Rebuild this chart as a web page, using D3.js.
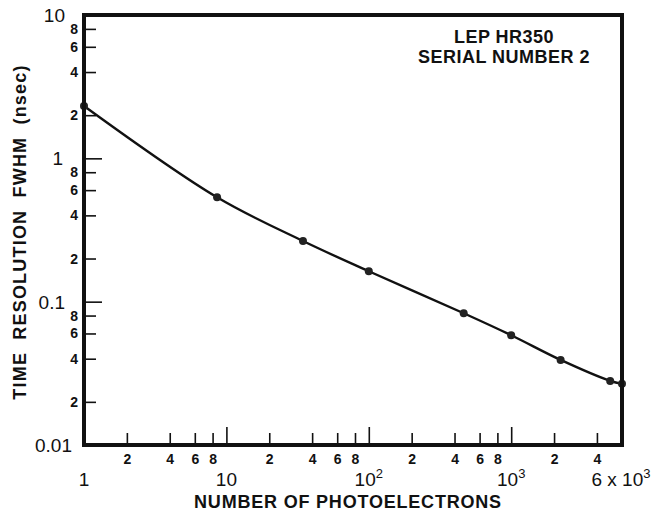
<!DOCTYPE html>
<html>
<head>
<meta charset="utf-8">
<script src="https://cdn.jsdelivr.net/npm/d3@7"></script>
<style>
  html, body { margin: 0; padding: 0; background: #fff; }
  svg { display: block; }
  text { font-family: "Liberation Sans", Arial, sans-serif; fill: #111; }
</style>
</head>
<body>
<svg id="chart" width="657" height="512"></svg>
<script>
// ---- data ----
const photoelectrons = [1, 8.6, 34.5, 100, 464, 1000, 2224, 4955, 6000];
const fwhm = [2.32, 0.535, 0.265, 0.163, 0.083, 0.0583, 0.0392, 0.028, 0.0267];

const xMinorTicks = [2, 4, 6, 8, 20, 40, 60, 80, 200, 400, 600, 800, 2000, 4000];
const xMajorTicks = [10, 100, 1000];
const xMajorLabels = [
  { v: 1, base: "1", sup: "" },
  { v: 10, base: "10", sup: "" },
  { v: 100, base: "10", sup: "2" },
  { v: 1000, base: "10", sup: "3" },
  { v: 6000, base: "6 x 10", sup: "3" }
];
const yMinorTicks = [0.02, 0.04, 0.06, 0.08, 0.2, 0.4, 0.6, 0.8, 2, 4, 6, 8];
const yMajorTicks = [0.1, 1];
const yMajorLabels = [
  { v: 10, t: "10" },
  { v: 1, t: "1" },
  { v: 0.1, t: "0.1" },
  { v: 0.01, t: "0.01" }
];
const titleLines = ["LEP HR350", "SERIAL NUMBER 2"];
const xTitle = "NUMBER OF PHOTOELECTRONS";
const yTitle = "TIME RESOLUTION FWHM (nsec)";

// ---- layout ----
const L = 84, R = 622, T = 15, B = 445;
const svg = d3.select("#chart");

const x = d3.scaleLog().domain([1, 6000]).range([L, R]);
const y = d3.scaleLog().domain([0.01, 10]).range([B, T]);

// minor x ticks with labels
const xAxisMinor = d3.axisBottom(x)
  .tickValues(xMinorTicks)
  .tickSize(-12)
  .tickPadding(9)
  .tickFormat(d => String(d).charAt(0));
svg.append("g").attr("transform", `translate(0,${B})`).call(xAxisMinor)
  .call(g => g.select(".domain").remove())
  .call(g => g.selectAll(".tick line").attr("stroke", "#111").attr("stroke-width", 1.6))
  .call(g => g.selectAll(".tick text").attr("font-size", 14).attr("font-weight", "bold").attr("font-family", "Liberation Sans, Arial, sans-serif").attr("fill", "#111"));

// major x ticks
const xAxisMajor = d3.axisBottom(x).tickValues(xMajorTicks).tickSize(-18).tickFormat("");
svg.append("g").attr("transform", `translate(0,${B})`).call(xAxisMajor)
  .call(g => g.select(".domain").remove())
  .call(g => g.selectAll(".tick line").attr("stroke", "#111").attr("stroke-width", 1.6));

// minor y ticks with labels
const yAxisMinor = d3.axisLeft(y)
  .tickValues(yMinorTicks)
  .tickSize(-12)
  .tickPadding(6)
  .tickFormat(d => String(d).replace("0.0", "").replace("0.", "").charAt(0));
svg.append("g").attr("transform", `translate(${L},0)`).call(yAxisMinor)
  .call(g => g.select(".domain").remove())
  .call(g => g.selectAll(".tick line").attr("stroke", "#111").attr("stroke-width", 1.6))
  .call(g => g.selectAll(".tick text").attr("font-size", 14).attr("font-weight", "bold").attr("font-family", "Liberation Sans, Arial, sans-serif").attr("fill", "#111"));

// major y ticks
const yAxisMajor = d3.axisLeft(y).tickValues(yMajorTicks).tickSize(-18).tickFormat("");
svg.append("g").attr("transform", `translate(${L},0)`).call(yAxisMajor)
  .call(g => g.select(".domain").remove())
  .call(g => g.selectAll(".tick line").attr("stroke", "#111").attr("stroke-width", 1.6));

// major y labels
svg.append("g").selectAll("text").data(yMajorLabels).join("text")
  .attr("x", d => d.v === 0.01 ? 72 : (d.v === 1 ? 63 : 65))
  .attr("y", d => y(d.v))
  .attr("dy", "0.36em")
  .attr("text-anchor", "end")
  .attr("font-size", 19)
  .text(d => d.t);

// major x labels
const xl = svg.append("g").selectAll("text").data(xMajorLabels).join("text")
  .attr("x", d => d.v === 6000 ? x(d.v) - 1 : x(d.v))
  .attr("y", 486)
  .attr("text-anchor", "middle")
  .attr("font-size", 19);
xl.append("tspan").text(d => d.base);
xl.filter(d => d.sup).append("tspan")
  .attr("dy", -8).attr("font-size", 13).text(d => d.sup);

// curve
const pts = photoelectrons.map((v, i) => [x(v), y(fwhm[i])]);
const line = d3.line().curve(d3.curveCatmullRom.alpha(0.5));
svg.append("path").attr("d", line(pts))
  .attr("fill", "none").attr("stroke", "#111").attr("stroke-width", 2.4);

// points
svg.append("g").selectAll("circle").data(photoelectrons).join("circle")
  .attr("cx", d => x(d))
  .attr("cy", (d, i) => y(fwhm[i]))
  .attr("r", 4)
  .attr("fill", "#222");

// frame
svg.append("rect").attr("x", L).attr("y", T).attr("width", R - L).attr("height", B - T)
  .attr("fill", "none").attr("stroke", "#111").attr("stroke-width", 4);

// title block
svg.append("g").selectAll("text").data(titleLines).join("text")
  .attr("x", 504)
  .attr("y", (d, i) => 43 + i * 20)
  .attr("text-anchor", "middle")
  .attr("font-size", 18)
  .attr("font-weight", "bold")
  .attr("letter-spacing", 0.5)
  .text(d => d);

// axis titles
svg.append("text")
  .attr("x", 348).attr("y", 508)
  .attr("text-anchor", "middle")
  .attr("font-size", 18).attr("font-weight", "bold")
  .attr("letter-spacing", 0.8)
  .text(xTitle);

svg.append("text")
  .attr("transform", "translate(26,232) rotate(-90)")
  .attr("text-anchor", "middle")
  .attr("font-size", 18).attr("font-weight", "bold")
  .attr("letter-spacing", 1.2)
  .attr("word-spacing", 6)
  .text(yTitle);
</script>
</body>
</html>
